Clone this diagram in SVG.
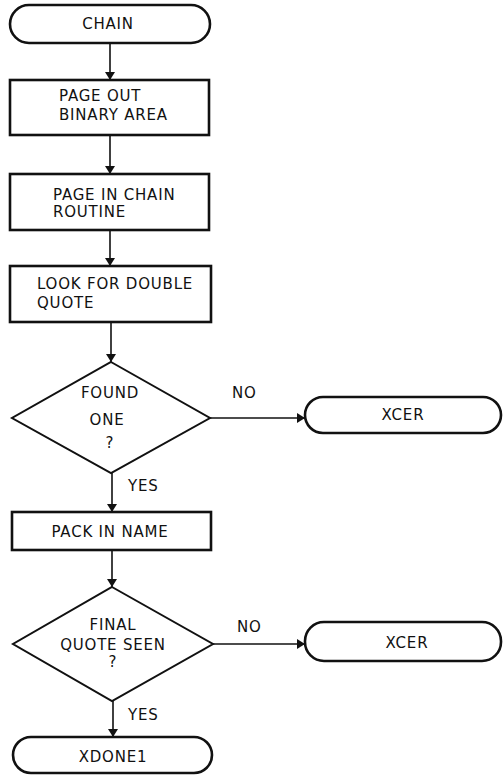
<svg xmlns="http://www.w3.org/2000/svg" width="503" height="775" viewBox="0 0 503 775">
<style>
.shape{fill:#fff;stroke:#111;stroke-width:2.6}
.dia{fill:#fff;stroke:#111;stroke-width:2}
.t{font-family:"DejaVu Sans","Liberation Sans",sans-serif;font-size:15px;letter-spacing:0.8px;fill:#111}
.c{text-anchor:middle}
.ln{stroke:#111;stroke-width:1.6;fill:none}
</style>
<defs>
<marker id="ah" viewBox="0 0 8 10" refX="8" refY="5" markerWidth="8" markerHeight="10" markerUnits="userSpaceOnUse" orient="auto">
<path d="M0,0 L8,5 L0,10 Z" fill="#111"/>
</marker>
</defs>
<rect width="503" height="775" fill="#fff"/>
<g id="connectors">
<line class="ln" x1="110" y1="43" x2="110" y2="80" marker-end="url(#ah)"/>
<line class="ln" x1="110" y1="135" x2="110" y2="174" marker-end="url(#ah)"/>
<line class="ln" x1="110" y1="230" x2="110" y2="266" marker-end="url(#ah)"/>
<line class="ln" x1="111" y1="322" x2="111" y2="362" marker-end="url(#ah)"/>
<line class="ln" x1="210" y1="418" x2="305" y2="418" marker-end="url(#ah)"/>
<text class="t" x="232" y="398">NO</text>
<line class="ln" x1="112" y1="473" x2="112" y2="512" marker-end="url(#ah)"/>
<text class="t" x="128" y="491">YES</text>
<line class="ln" x1="112" y1="550" x2="112" y2="587" marker-end="url(#ah)"/>
<line class="ln" x1="213" y1="644" x2="305" y2="644" marker-end="url(#ah)"/>
<text class="t" x="237" y="632">NO</text>
<line class="ln" x1="113" y1="701" x2="113" y2="737" marker-end="url(#ah)"/>
<text class="t" x="128" y="720">YES</text>
</g>
<g id="chain">
<rect class="shape" x="10" y="5" width="200" height="38" rx="19"/>
<text class="t c" x="108" y="29">CHAIN</text>
</g>
<g id="page-out">
<rect class="shape" x="10" y="80" width="199" height="55"/>
<text class="t" x="59" y="101">PAGE OUT</text>
<text class="t" x="59" y="120">BINARY AREA</text>
</g>
<g id="page-in">
<rect class="shape" x="10" y="174" width="199" height="56"/>
<text class="t" x="53" y="200">PAGE IN CHAIN</text>
<text class="t" x="53" y="217">ROUTINE</text>
</g>
<g id="look">
<rect class="shape" x="10" y="266" width="201" height="56"/>
<text class="t" x="37" y="289">LOOK FOR DOUBLE</text>
<text class="t" x="37" y="308">QUOTE</text>
</g>
<g id="found-one">
<polygon class="dia" points="111,362 210,418 111,473 12,418"/>
<text class="t c" x="110" y="398">FOUND</text>
<text class="t c" x="107" y="425">ONE</text>
<text class="t c" x="110" y="448">?</text>
</g>
<g id="xcer1">
<rect class="shape" x="305" y="397" width="196" height="36" rx="18"/>
<text class="t c" x="403" y="420">XCER</text>
</g>
<g id="pack">
<rect class="shape" x="12" y="512" width="199" height="38"/>
<text class="t c" x="110" y="537">PACK IN NAME</text>
</g>
<g id="final-quote">
<polygon class="dia" points="112,587 213,644 112,701 13,644"/>
<text class="t c" x="113" y="630">FINAL</text>
<text class="t c" x="113" y="650">QUOTE SEEN</text>
<text class="t c" x="113" y="667">?</text>
</g>
<g id="xcer2">
<rect class="shape" x="305" y="622" width="196" height="39" rx="19"/>
<text class="t c" x="407" y="648">XCER</text>
</g>
<g id="xdone1">
<rect class="shape" x="13" y="737" width="199" height="36" rx="18"/>
<text class="t c" x="113" y="762">XDONE1</text>
</g>
</svg>
